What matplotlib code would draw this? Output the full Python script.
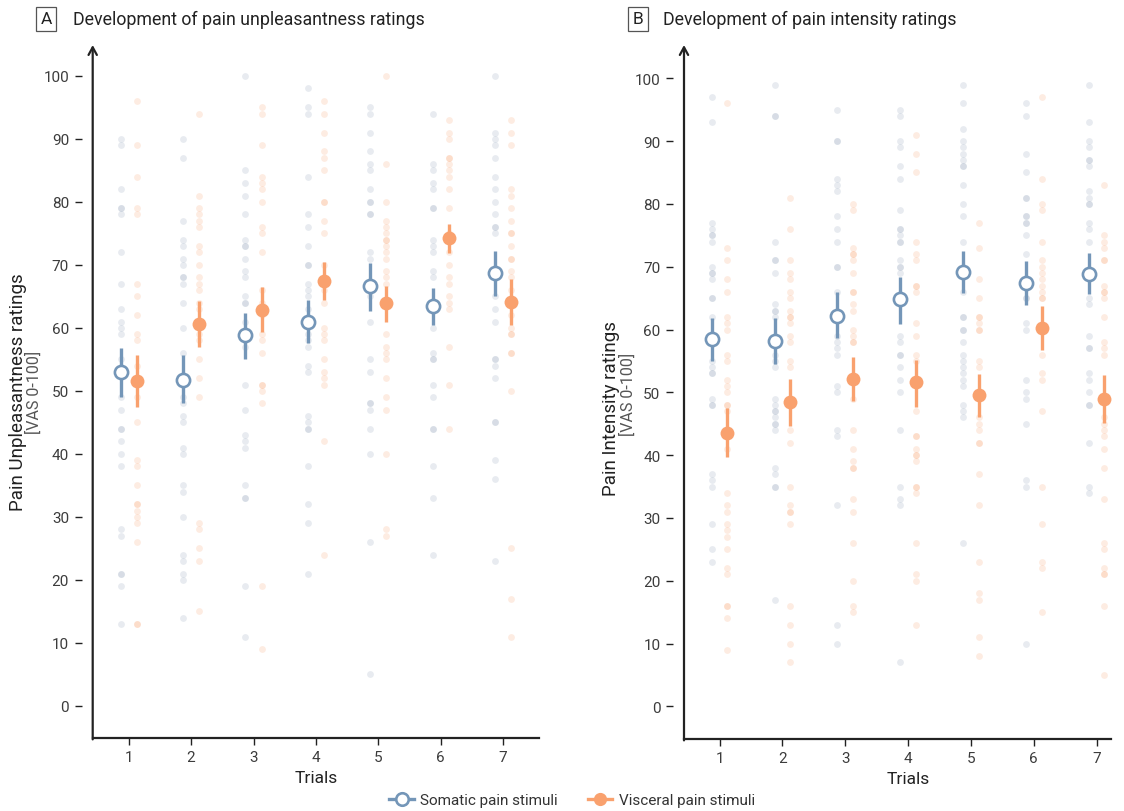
import matplotlib
matplotlib.use('Agg')
import matplotlib.pyplot as plt
from matplotlib.lines import Line2D
import numpy as np

plt.rcParams['font.family'] = ['Roboto', 'DejaVu Sans']

trials = [1, 2, 3, 4, 5, 6, 7]
yticks = [0, 10, 20, 30, 40, 50, 60, 70, 80, 90, 100]

# ---------------- Panel A: unpleasantness ----------------
unp_som_pts = [
    [90, 89, 82, 79, 79, 78, 72, 67, 63, 61, 60, 59, 55, 49, 47, 44, 44, 42, 40, 38, 28, 27, 21, 21, 19, 13],
    [90, 87, 77, 74, 73, 71, 70, 68, 68, 67, 64, 60, 56, 49, 48, 46, 45, 41, 40, 35, 34, 30, 24, 23, 21, 20, 14],
    [100, 85, 83, 81, 78, 74, 73, 73, 71, 69, 68, 65, 64, 64, 61, 59, 58, 57, 51, 47, 43, 42, 41, 35, 33, 33, 19, 11],
    [98, 95, 94, 84, 78, 76, 73, 70, 70, 67, 66, 65, 63, 59, 58, 57, 54, 53, 46, 45, 44, 44, 38, 32, 29, 21],
    [95, 94, 91, 88, 86, 85, 82, 80, 80, 78, 78, 72, 71, 65, 61, 55, 53, 48, 48, 47, 44, 40, 26, 5],
    [94, 86, 85, 83, 82, 79, 79, 74, 73, 72, 69, 68, 63, 60, 56, 55, 55, 51, 49, 44, 44, 38, 33, 24],
    [100, 91, 90, 89, 87, 84, 82, 80, 78, 76, 76, 75, 65, 63, 61, 55, 55, 54, 52, 45, 45, 39, 36, 23],
]
unp_vis_pts = [
    [96, 89, 84, 79, 78, 67, 65, 62, 59, 58, 54, 49, 45, 39, 38, 35, 32, 32, 31, 30, 29, 26, 13, 13],
    [94, 81, 79, 78, 77, 76, 73, 72, 70, 68, 67, 66, 64, 63, 59, 58, 55, 52, 49, 29, 28, 25, 23, 15],
    [95, 94, 89, 84, 83, 82, 80, 76, 75, 72, 66, 64, 62, 59, 58, 56, 51, 51, 50, 48, 19, 9],
    [96, 94, 91, 88, 87, 85, 80, 80, 77, 75, 70, 66, 64, 60, 59, 58, 55, 53, 52, 51, 42, 24],
    [100, 86, 80, 77, 76, 75, 74, 74, 73, 72, 71, 69, 68, 67, 59, 57, 56, 55, 52, 49, 47, 40, 28, 27],
    [93, 91, 90, 87, 87, 86, 85, 84, 82, 79, 75, 72, 70, 68, 67, 65, 64, 63, 57, 51, 44],
    [93, 91, 89, 82, 81, 79, 77, 75, 75, 73, 71, 71, 69, 68, 66, 64, 62, 60, 59, 59, 56, 56, 50, 25, 17, 11],
]
unp_som_mean = [53.0, 51.8, 58.8, 61.0, 66.7, 63.4, 68.7]
unp_som_lo = [49.0, 48.0, 55.0, 57.6, 62.7, 60.4, 65.0]
unp_som_hi = [56.8, 55.7, 62.3, 64.4, 70.3, 66.3, 72.2]
unp_vis_mean = [51.6, 60.6, 62.9, 67.5, 63.9, 74.2, 64.1]
unp_vis_lo = [47.5, 57.0, 59.3, 64.5, 61.0, 71.9, 60.5]
unp_vis_hi = [55.7, 64.2, 66.5, 70.5, 66.6, 76.5, 67.7]

# ---------------- Panel B: intensity ----------------
int_som_pts = [
    [97, 93, 77, 76, 75, 75, 74, 70, 69, 69, 68, 65, 65, 62, 55, 54, 53, 53, 49, 48, 48, 37, 36, 35, 29, 25, 23],
    [99, 94, 94, 74, 71, 71, 69, 64, 63, 63, 62, 56, 55, 54, 49, 48, 47, 47, 46, 45, 45, 44, 38, 37, 35, 35, 17],
    [95, 90, 90, 84, 83, 82, 78, 76, 74, 70, 70, 66, 59, 58, 57, 56, 51, 50, 44, 43, 32, 13, 10],
    [95, 94, 90, 89, 86, 84, 79, 76, 76, 75, 74, 74, 71, 70, 70, 69, 59, 58, 56, 56, 54, 52, 50, 44, 35, 33, 32, 7],
    [99, 96, 92, 90, 89, 88, 87, 86, 86, 83, 80, 78, 74, 66, 62, 62, 60, 60, 58, 56, 55, 54, 53, 52, 51, 48, 47, 46, 26],
    [96, 94, 88, 85, 81, 81, 78, 78, 77, 77, 75, 72, 65, 65, 61, 60, 52, 50, 49, 45, 36, 35, 10],
    [99, 93, 90, 89, 87, 87, 86, 82, 81, 80, 80, 77, 76, 74, 65, 64, 59, 57, 57, 53, 52, 50, 48, 48, 42, 35, 34],
]
int_vis_pts = [
    [96, 73, 71, 68, 66, 62, 61, 60, 56, 55, 52, 51, 50, 48, 48, 47, 41, 34, 32, 31, 29, 28, 27, 25, 22, 21, 16, 16, 14, 9],
    [81, 76, 71, 69, 68, 66, 65, 63, 62, 62, 61, 59, 58, 55, 54, 44, 42, 35, 32, 31, 31, 29, 16, 13, 10, 7],
    [80, 79, 73, 72, 72, 71, 69, 66, 66, 64, 63, 60, 59, 58, 58, 49, 44, 41, 39, 38, 38, 33, 31, 26, 20, 16, 15],
    [91, 88, 85, 74, 72, 71, 67, 67, 66, 61, 59, 56, 55, 47, 43, 43, 41, 40, 40, 39, 35, 35, 34, 26, 21, 20, 13],
    [77, 73, 68, 65, 62, 62, 61, 60, 60, 55, 54, 46, 45, 44, 42, 42, 37, 32, 23, 18, 17, 11, 8],
    [97, 84, 80, 79, 74, 71, 70, 69, 68, 67, 66, 65, 65, 56, 53, 52, 47, 35, 29, 23, 22, 15],
    [83, 75, 74, 73, 71, 71, 67, 66, 66, 65, 62, 58, 57, 56, 46, 45, 44, 43, 41, 38, 33, 26, 25, 22, 21, 21, 16, 5],
]
int_som_mean = [58.5, 58.2, 62.2, 64.8, 69.2, 67.4, 68.9]
int_som_lo = [55.0, 54.5, 58.6, 60.9, 65.8, 63.9, 65.6]
int_som_hi = [61.8, 61.8, 66.0, 68.3, 72.5, 70.9, 72.2]
int_vis_mean = [43.6, 48.4, 52.1, 51.6, 49.5, 60.3, 49.0]
int_vis_lo = [39.7, 44.7, 48.6, 47.7, 46.0, 56.8, 45.1]
int_vis_hi = [47.5, 52.1, 55.6, 55.1, 52.9, 63.7, 52.7]

SOM = '#7496b8'
VIS = '#f9a16e'
SOM_DOT = '#aab7c9'
VIS_DOT = '#f9a16e'
DARK = '#222222'

W, H = 1124, 812
fig = plt.figure(figsize=(W / 100, H / 100), dpi=100)


def px_axes(l, r, b, t):
    return fig.add_axes([l / W, 1 - b / H, (r - l) / W, (b - t) / H])


def draw_panel(ax, som_pts, vis_pts, sm, slo, shi, vm, vlo, vhi, xlim, ylim, off):
    for i, t in enumerate(trials):
        ax.scatter(np.full(len(som_pts[i]), t - off), som_pts[i], s=24, color=SOM_DOT,
                   alpha=0.27, linewidths=0, zorder=1)
        ax.scatter(np.full(len(vis_pts[i]), t + off), vis_pts[i], s=24, color=VIS_DOT,
                   alpha=0.2, linewidths=0, zorder=1)
    xs = np.array(trials) - off
    xv = np.array(trials) + off
    ax.vlines(xs, slo, shi, color=SOM, lw=2.4, zorder=3)
    ax.plot(xs, sm, 'o', ms=9.5, mfc='white', mec=SOM, mew=1.9, ls='none', zorder=4)
    ax.vlines(xv, vlo, vhi, color=VIS, lw=2.4, zorder=3)
    ax.plot(xv, vm, 'o', ms=10, mfc=VIS, mec=VIS, mew=0, ls='none', zorder=4)

    ax.set_xlim(*xlim)
    ax.set_ylim(*ylim)
    ax.set_xticks(trials)
    ax.set_xticklabels([str(t) for t in trials])
    ax.set_yticks(yticks)
    ax.set_yticklabels([str(v) for v in yticks])
    for s in ['top', 'right']:
        ax.spines[s].set_visible(False)
    ax.spines['left'].set_position(('outward', 8))
    ax.spines['left'].set_visible(False)
    ax.spines['bottom'].set_linewidth(1.6)
    ax.spines['bottom'].set_color(DARK)
    ax.tick_params(axis='both', which='major', direction='out', length=5, width=1.0,
                   color=DARK, labelsize=11, labelcolor='#3c3c3c', pad=4)
    ax.annotate('', xy=(0, 1), xycoords='axes fraction', xytext=(0, -0.002),
                textcoords='axes fraction',
                arrowprops=dict(arrowstyle='->,head_length=0.55,head_width=0.3', lw=1.6,
                                color=DARK, shrinkA=0, shrinkB=0),
                annotation_clip=False)
    ax.annotate('Trials', xy=(4, 0), xycoords=('data', 'axes fraction'),
                xytext=(0, -23), textcoords='offset points', ha='center', va='top',
                fontsize=12.5, color=DARK)


axA = px_axes(92.7, 539.3, 739, 46)
draw_panel(axA, unp_som_pts, unp_vis_pts, unp_som_mean, unp_som_lo, unp_som_hi,
           unp_vis_mean, unp_vis_lo, unp_vis_hi, (0.423, 7.58), (-5.1, 104.9), 0.13)

axB = px_axes(684, 1111, 740, 46)
draw_panel(axB, int_som_pts, int_vis_pts, int_som_mean, int_som_lo, int_som_hi,
           int_vis_mean, int_vis_lo, int_vis_hi, (0.433, 7.23), (-5.2, 105.3), 0.125)

# y labels
cy = 1 - 392.5 / H
fig.text(18 / W, cy, 'Pain Unpleasantness ratings', rotation=90, ha='center', va='center',
         fontsize=13.5, color=DARK)
fig.text(34 / W, cy, '[VAS 0-100]', rotation=90, ha='center', va='center',
         fontsize=11.5, color='#555555')
fig.text(611 / W, cy - 0.02, 'Pain Intensity ratings', rotation=90, ha='center', va='center',
         fontsize=13.5, color=DARK)
fig.text(628 / W, cy - 0.003, '[VAS 0-100]', rotation=90, ha='center', va='center',
         fontsize=11.5, color='#555555')

# panel titles with boxed letters
for letter, bx, tx, title in [('A', 46, 73, 'Development of pain unpleasantness ratings'),
                              ('B', 638, 663, 'Development of pain intensity ratings')]:
    fig.text(bx / W, 1 - 20 / H, letter, ha='center', va='center', fontsize=12.5, color=DARK,
             bbox=dict(boxstyle='square,pad=0.25', fc='white', ec='#555555', lw=0.9))
    fig.text(tx / W, 1 - 20 / H, title, ha='left', va='center', fontsize=12.8, color=DARK)

# legend
handles = [Line2D([], [], color=SOM, marker='o', ms=9, mfc='white', mec=SOM, mew=1.9, lw=2.4),
           Line2D([], [], color=VIS, marker='o', ms=9.5, mfc=VIS, mec=VIS, mew=0, lw=2.4)]
fig.legend(handles, ['Somatic pain stimuli', 'Visceral pain stimuli'], loc='center',
           bbox_to_anchor=(572 / W, 1 - 801 / H), ncol=2, frameon=False, fontsize=11,
           handlelength=1.6, handletextpad=0.4, columnspacing=2.0,
           labelcolor='#333333')

fig.savefig('out.png', dpi=100, facecolor='white')
